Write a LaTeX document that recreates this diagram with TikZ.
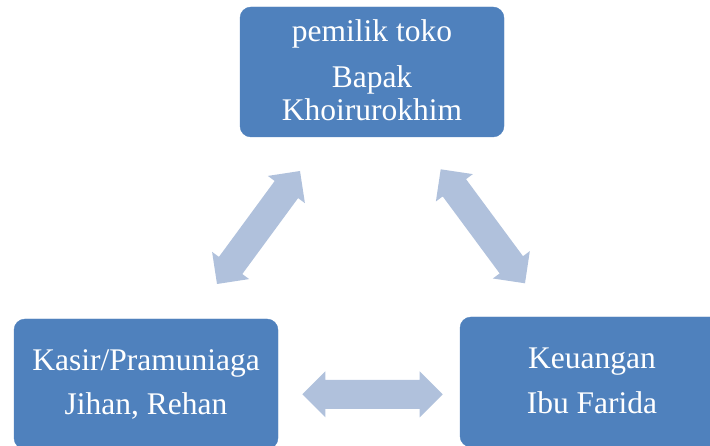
\documentclass[tikz,border=0pt]{standalone}
\usepackage{fontspec}
\setmainfont{Liberation Serif}
\usetikzlibrary{calc}
\definecolor{boxblue}{RGB}{79,129,189}
\definecolor{arrowblue}{RGB}{176,193,220}
\tikzset{
  box/.style={fill=boxblue, draw=boxblue, rounded corners=11pt, minimum width=264pt, minimum height=130pt, inner sep=0pt},
  txt/.style={text=white, font=\fontsize{31.5}{33}\selectfont, anchor=base, inner sep=0pt},
  arrowfill/.style={fill=arrowblue}
}
\newcommand{\blockarrow}[2]{%
  \coordinate (#1h) at ($(#1)!23pt!(#2)$);
  \coordinate (#2h) at ($(#2)!23pt!(#1)$);
  \fill[arrowfill] (#1)
    -- ($(#1h)!23pt!90:(#2)$) -- ($(#1h)!14.5pt!90:(#2)$)
    -- ($(#2h)!14.5pt!-90:(#1)$) -- ($(#2h)!23pt!-90:(#1)$)
    -- (#2)
    -- ($(#2h)!23pt!90:(#1)$) -- ($(#2h)!14.5pt!90:(#1)$)
    -- ($(#1h)!14.5pt!-90:(#2)$) -- ($(#1h)!23pt!-90:(#2)$)
    -- cycle;}
\begin{document}
\begin{tikzpicture}[x=1pt,y=-1pt]
\useasboundingbox (0,0) rectangle (710,446);
\clip (0,0) rectangle (710,446);
% boxes
\node[box] (top) at (372,72) {};
\node[box] (left) at (146,384) {};
\node[box] (right) at (592,382) {};
% texts
\node[txt] (t1) at (372,42) {pemilik toko};
\node[txt] (t2) at (372,88) {Bapak};
\node[txt] (t3) at (372,121) {Khoirurokhim};
\node[txt] (l1) at (146,370.5) {Kasir/Pramuniaga};
\node[txt] (l2) at (146,415) {Jihan, Rehan};
\node[txt] (r1) at (592,369) {Keuangan};
\node[txt] (r2) at (592,413.5) {Ibu Farida};
% arrows
\coordinate (la) at (217,284);
\coordinate (lb) at (300,171);
\coordinate (ra) at (440.7,169.3);
\coordinate (rb) at (525,283.3);
\coordinate (ha) at (302.3,394.3);
\coordinate (hb) at (442.7,394.3);
\blockarrow{la}{lb}
\blockarrow{ra}{rb}
\blockarrow{ha}{hb}
\end{tikzpicture}
\end{document}
